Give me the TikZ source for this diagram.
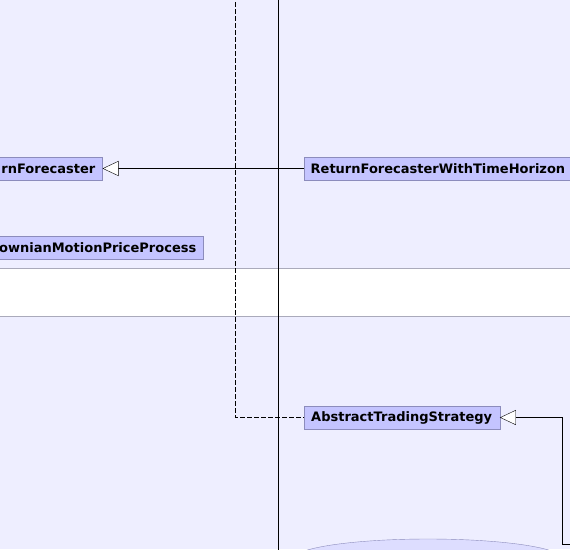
\documentclass[tikz,border=0pt]{standalone}
\usepackage{fontspec}
\setmainfont{DejaVu Sans}
\usepackage{tikz}
\usetikzlibrary{positioning}
\usetikzlibrary{arrows.meta}
\usetikzlibrary{shapes.geometric}
\definecolor{lanebg}{HTML}{EEEEFF}
\definecolor{boxfill}{HTML}{C4C4FF}
\definecolor{boxline}{HTML}{8C8CBC}
\definecolor{bandline}{HTML}{AAAABB}
\definecolor{usefill}{HTML}{DDDDFF}
\tikzset {
  x=1pt, y=-1pt,
  % class boxes
  klass/.style = {draw=boxline, fill=boxfill, font=\bfseries\fontsize{13}{15}\selectfont,
    inner xsep=7pt, inner ysep=0pt, minimum height=23pt},
  % generalisation arrow
  inherits/.style={-{Triangle[open, length=16pt, width=15pt, fill=white]}, black},
  depends/.style={black, dash pattern=on 5pt off 2pt},
}
\begin{document}
\begin{tikzpicture}
      \useasboundingbox (0,0) rectangle (570,549);
      \clip (0,0) rectangle (570,549);
      \fill[lanebg] (0,0) rectangle (570,549);
      \fill[white] (0,268) rectangle (570,316);
      \draw[bandline] (0,268) -- (570,268);
      \draw[bandline] (0,316) -- (570,316);

      \node[klass, anchor=east] (rf) at (102.5,168.5) {rnForecaster};
      \node[klass, anchor=west, minimum width=263pt] (rfth) at (303.5,168.5) {ReturnForecasterWithTimeHorizon};
      \node[klass, anchor=east] (gbm) at (203.5,247.5) {ownianMotionPriceProcess};
      \node[klass, anchor=west, minimum width=196pt] (ats) at (303.5,417.5) {AbstractTradingStrategy};

      \node[draw=boxline, fill=usefill, ellipse, minimum width=270pt, minimum height=40pt] (use) at (428,559) {};

      \coordinate (dtop) at (235.5,-5);
      \coordinate (ltop) at (278.5,-5);
      \coordinate (lbot) at (278.5,555);
      \coordinate (impl) at (575,544.5);

      \draw [depends] (dtop) |- (ats);
      \draw [-, black] (ltop) -- (lbot);
      \draw [inherits] (rfth) -- (rf);
      \draw [inherits] (impl) -- (562.5,544.5) |- (ats);
    \end{tikzpicture}
\end{document}
